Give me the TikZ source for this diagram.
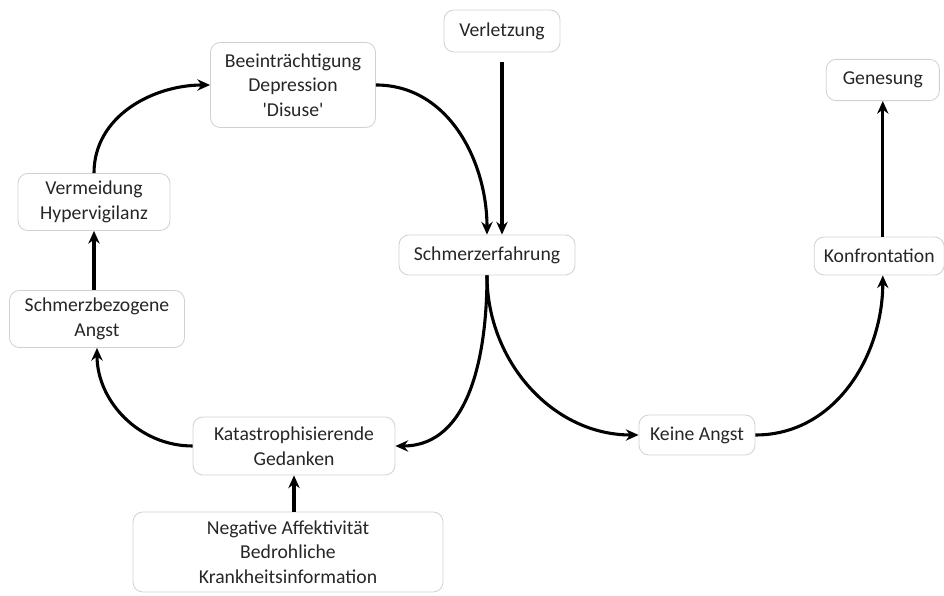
\documentclass[tikz,border=0pt]{standalone}
\usepackage{fontspec}
\setmainfont{Carlito}
\usepackage{tikz}
\usetikzlibrary{arrows.meta}

\begin{document}
\begin{tikzpicture}[line width=2.2pt, >={Stealth[length=9pt,width=8pt]},
    box/.style={draw=black!18, line width=0.6pt, rounded corners=7pt, align=center,
      text=black!85, font=\fontsize{14pt}{17.6pt}\selectfont, inner sep=2pt}]
  \useasboundingbox (0,0) rectangle (23.6,14.9);

  \node[box, minimum width=2.9cm, minimum height=1.05cm] (verl) at (12.55,14.125) {Verletzung};
  \node[box, minimum width=4.125cm, minimum height=2.125cm] (beein) at (7.325,12.775) {Beeinträchtigung\\Depression\\\textquotesingle Disuse\textquotesingle};
  \node[box, minimum width=4.4cm, minimum height=1.0cm] (schmerz) at (12.175,8.525) {Schmerzerfahrung};
  \node[box, minimum width=3.8cm, minimum height=1.425cm] (verm) at (2.35,9.85) {Vermeidung\\Hypervigilanz};
  \node[box, minimum width=4.375cm, minimum height=1.425cm] (angst) at (2.425,6.925) {Schmerzbezogene\\Angst};
  \node[box, minimum width=5.05cm, minimum height=1.45cm] (kata) at (7.35,3.75) {Katastrophisierende\\Gedanken};
  \node[box, minimum width=7.75cm, minimum height=2.0cm] (neg) at (7.2,1.1) {Negative Affektivität\\Bedrohliche\\Krankheitsinformation};
  \node[box, minimum width=2.9cm, minimum height=1.0cm] (keine) at (17.425,4.025) {Keine Angst};
  \node[box, minimum width=3.25cm, minimum height=0.95cm] (konf) at (21.98,8.5) {Konfrontation};
  \node[box, minimum width=2.83cm, minimum height=1.03cm] (genes) at (22.07,12.9) {Genesung};

  \path[->] (verl) edge[shorten <=0.25cm] (verl |- schmerz.north)
            (beein.east) edge[out=0, in=90] (schmerz.north)
            (schmerz.south) edge[out=-90, in=0] (kata.east)
            (schmerz.south) edge[out=-90, in=180] (keine.west)
            (keine.east) edge[out=0, in=-90] (genes |- konf.south)
            (genes |- konf.north) edge (genes.south);
  \path[->] (kata.west) edge[out=180, in=-90] (angst.south)
            (verm |- angst.north) edge (verm.south)
            (verm.north) edge[out=90, in=180] (beein.west)
            (neg.north -| kata) edge (kata.south);
\end{tikzpicture}
\end{document}
